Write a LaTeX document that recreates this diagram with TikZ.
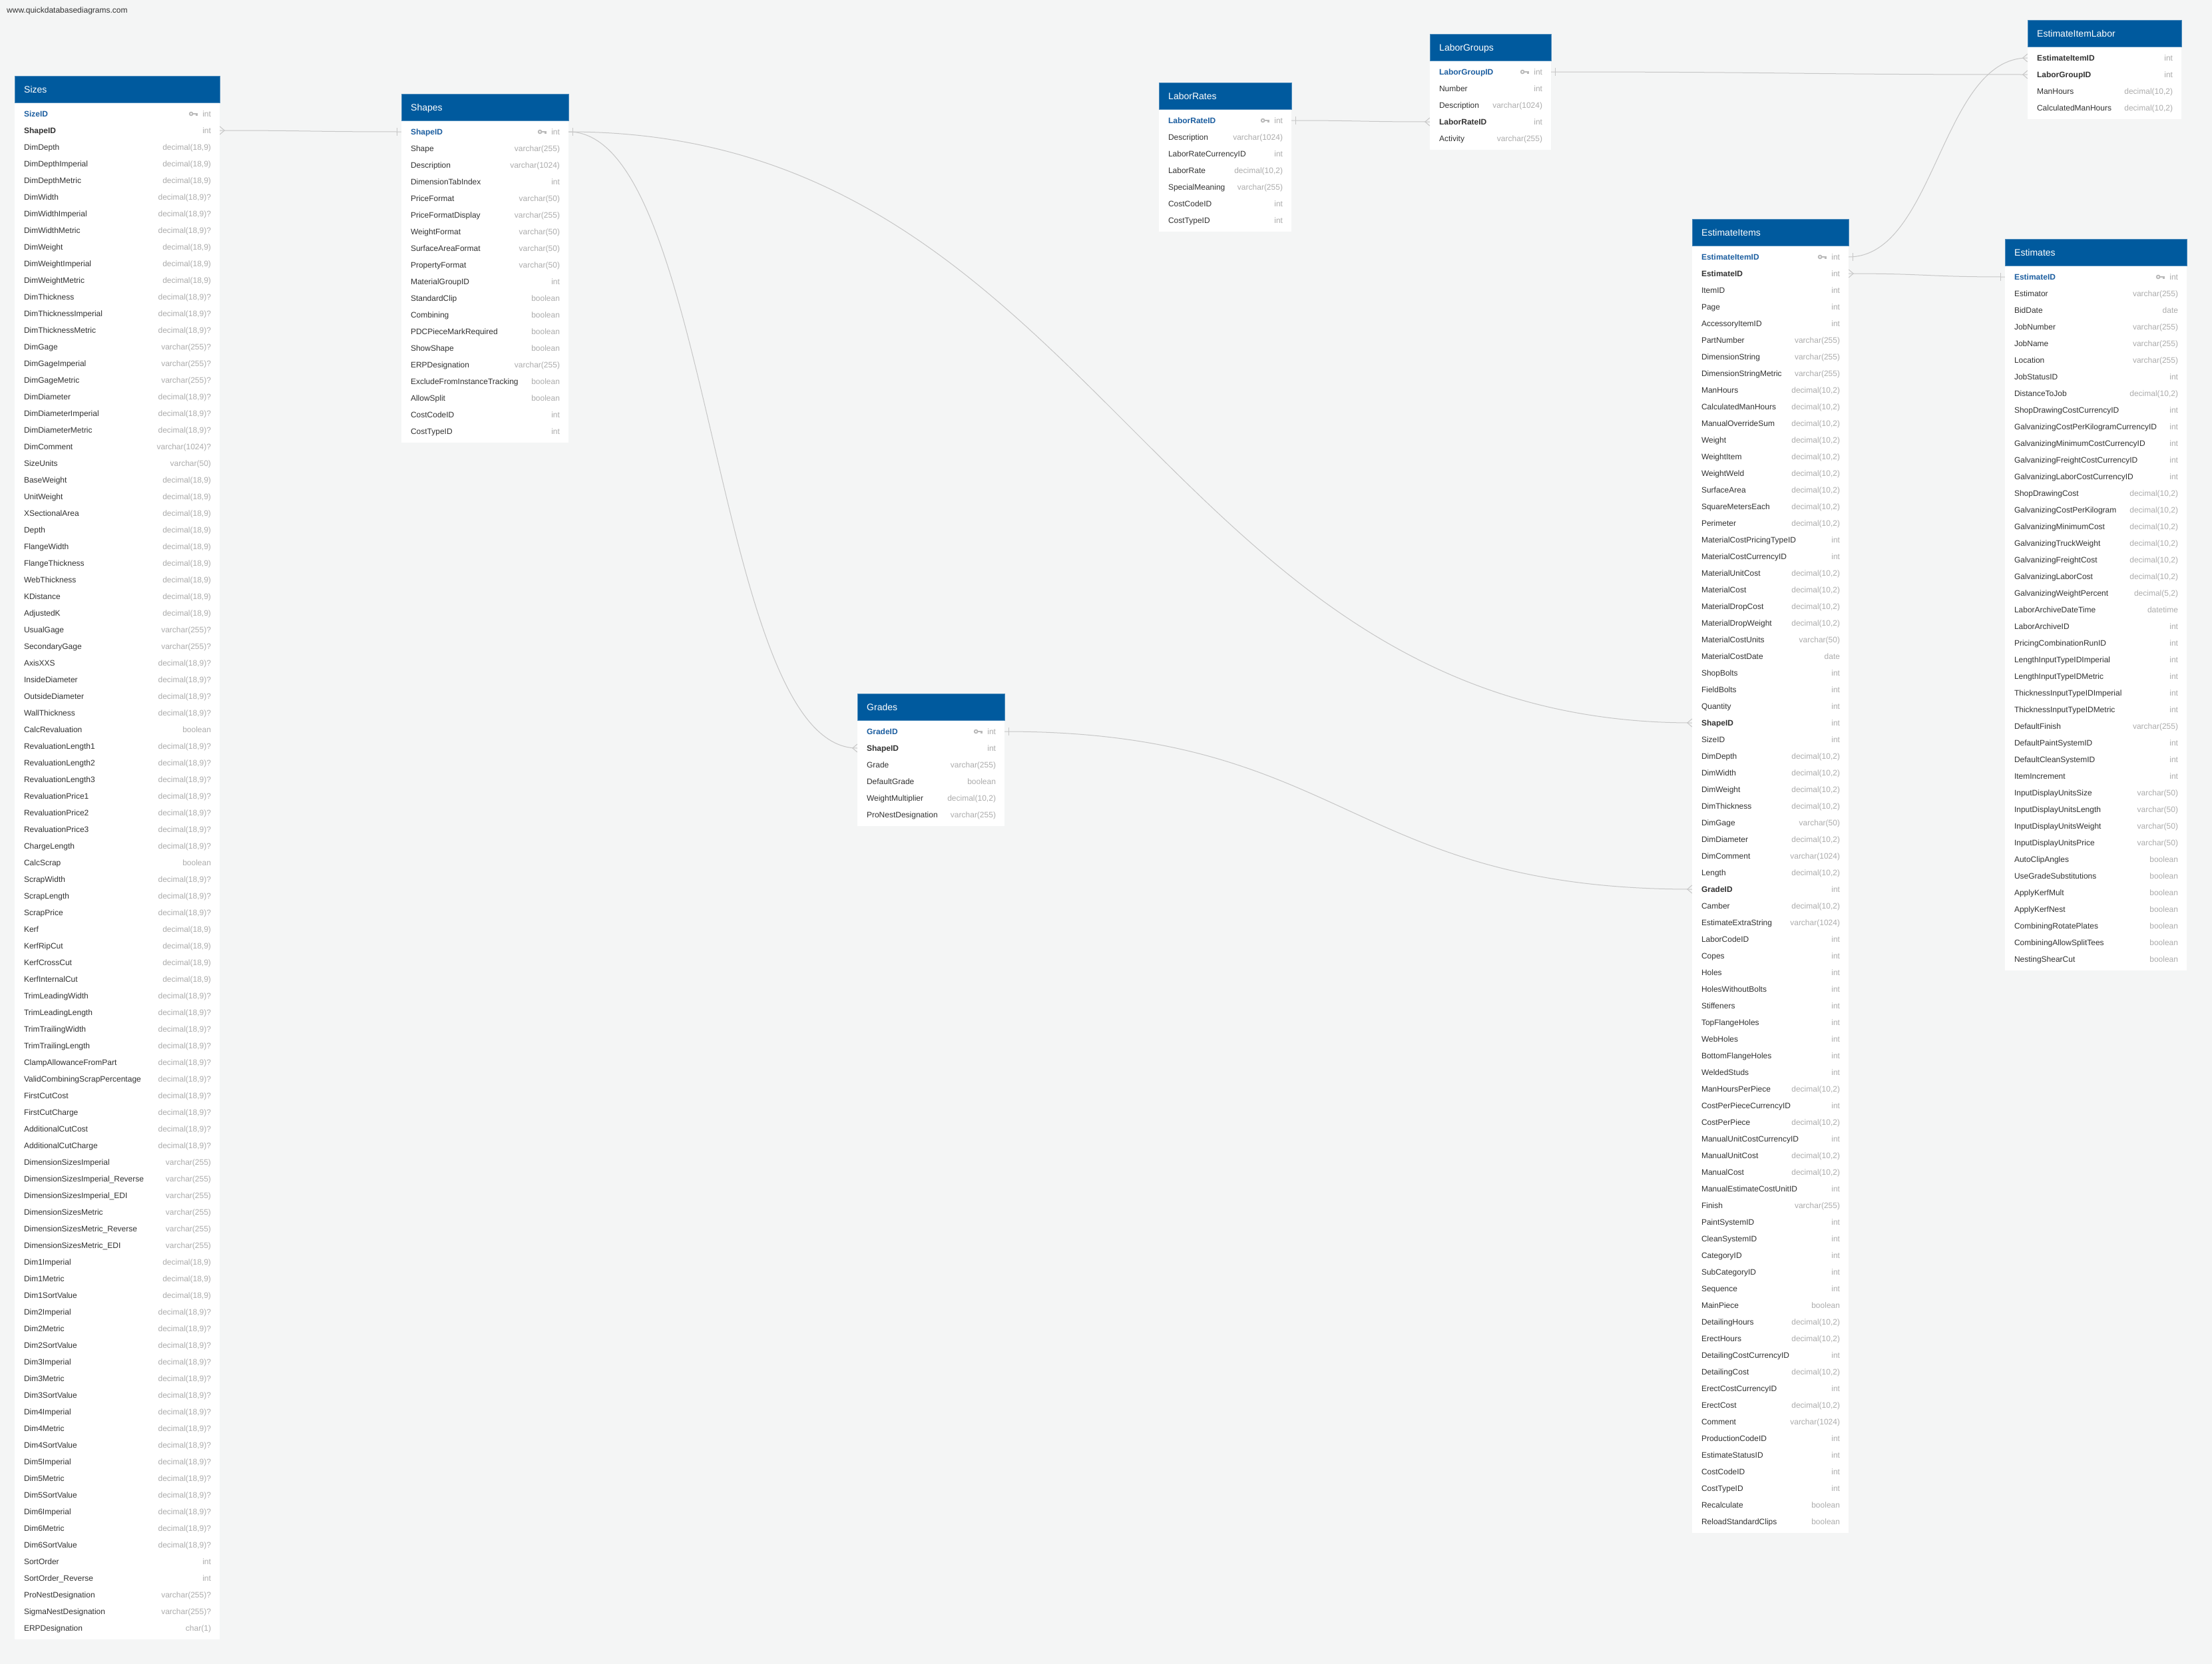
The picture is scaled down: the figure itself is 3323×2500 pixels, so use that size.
\documentclass[tikz,border=0pt]{standalone}
\usepackage{fontspec}
\setmainfont{Liberation Sans}
\usetikzlibrary{positioning,calc}
\definecolor{cPage}{RGB}{244,245,245}
\definecolor{cHead}{RGB}{0,90,158}
\definecolor{cPk}{RGB}{28,94,160}
\definecolor{cName}{RGB}{51,51,51}
\definecolor{cType}{RGB}{172,172,172}
\definecolor{cKey}{RGB}{185,185,185}
\definecolor{cRel}{RGB}{198,198,198}
\pgfdeclarelayer{pagebg}
\pgfdeclarelayer{body}
\pgfsetlayers{pagebg,body,main}
\newcommand{\erdrowfont}{\fontsize{12}{14}\selectfont}
\def\kindpk{p}
% one table: id, title, left, top, width, rows (name/type/kind)
\newcommand{\erdtable}[6]{%
  \node[thead,minimum width=#5,anchor=north west] (#1-head) at (#3,#4) {};
  \node[ttitle,anchor=west] (#1-title) at ([xshift=14pt]#1-head.west) {#2};
  \foreach \fname/\ftype/\fkind [count=\i] in {#6}{%
    \node[rowbox,minimum width=#5] (#1-\fname) at ({#3+#5/2},{#4+32+25*\i}) {};
    \node[fname,fk=\fkind,anchor=west] (#1-\fname-n) at ([xshift=14pt]#1-\fname.west) {\expandafter\detokenize\expandafter{\fname}};
    \node[ftype,anchor=east] (#1-\fname-t) at ([xshift=-13pt]#1-\fname.east) {\ftype};
    \ifx\fkind\kindpk \pic at ([xshift=-7pt]#1-\fname-t.west) {erdkey};\fi
    \xdef\lastfield{\fname}%
  }
  \begin{pgfonlayer}{body}
    \fill[white] (#1-head.south west) rectangle ([yshift=-4.5pt]#1-\lastfield.south east);
  \end{pgfonlayer}
}
% relationship ends
\newcommand{\crowout}[1]{\draw[rel] ([yshift=6pt]#1.east) -- ([xshift=7pt]#1.east) -- ([yshift=-6pt]#1.east);}
\newcommand{\crowin}[1]{\draw[rel] ([yshift=6pt]#1.west) -- ([xshift=-7pt]#1.west) -- ([yshift=-6pt]#1.west);}
\newcommand{\oneout}[1]{\draw[rel] ([xshift=6pt,yshift=6pt]#1.east) -- ([xshift=6pt,yshift=-6pt]#1.east);}
\newcommand{\onein}[1]{\draw[rel] ([xshift=-6pt,yshift=6pt]#1.west) -- ([xshift=-6pt,yshift=-6pt]#1.west);}

\begin{document}
\begin{tikzpicture}[x=1pt,y=-1pt]
\tikzset{
  thead/.style={rectangle,fill=cHead,draw=cHead!70!white,line width=0.8pt,minimum height=40,inner sep=0},
  ttitle/.style={inner sep=0,text=white,font=\fontsize{14}{16}\selectfont,text height=12pt,text depth=2pt},
  rowbox/.style={rectangle,minimum height=25,inner sep=0},
  fname/.style={inner sep=0,text=cName,font=\erdrowfont,text height=10.6pt,text depth=2pt},
  ftype/.style={inner sep=0,text=cType,font=\erdrowfont,text height=10.6pt,text depth=2pt},
  fk/.is choice,
  fk/p/.style={font=\erdrowfont\bfseries,text=cPk},
  fk/f/.style={font=\erdrowfont\bfseries},
  fk/n/.style={},
  rel/.style={draw=cRel,line width=1pt},
  erdkey/.pic={
    \draw[cKey,line width=1.8pt] (-10,0) circle (2.4);
    \fill[cKey] (-7.6,-1.1) rectangle (0,1.1);
    \fill[cKey] (-3.2,0) rectangle (-0.4,3.4);
  }
}
\useasboundingbox (0,0) rectangle (3323,2500);
\begin{pgfonlayer}{pagebg}
\fill[cPage] (0,0) rectangle (3323,2500);
\end{pgfonlayer}
\node[anchor=west,inner sep=0,text=cName,font=\erdrowfont] (site) at (10,16) {www.quickdatabasediagrams.com};

\erdtable{Sizes}{Sizes}{22}{114}{308}{SizeID/int/p, ShapeID/int/f,
  DimDepth/{decimal(18,9)}/n, DimDepthImperial/{decimal(18,9)}/n, DimDepthMetric/{decimal(18,9)}/n,
  DimWidth/{decimal(18,9)?}/n, DimWidthImperial/{decimal(18,9)?}/n, DimWidthMetric/{decimal(18,9)?}/n,
  DimWeight/{decimal(18,9)}/n, DimWeightImperial/{decimal(18,9)}/n, DimWeightMetric/{decimal(18,9)}/n,
  DimThickness/{decimal(18,9)?}/n, DimThicknessImperial/{decimal(18,9)?}/n, DimThicknessMetric/{decimal(18,9)?}/n,
  DimGage/{varchar(255)?}/n, DimGageImperial/{varchar(255)?}/n, DimGageMetric/{varchar(255)?}/n,
  DimDiameter/{decimal(18,9)?}/n, DimDiameterImperial/{decimal(18,9)?}/n, DimDiameterMetric/{decimal(18,9)?}/n,
  DimComment/{varchar(1024)?}/n, SizeUnits/{varchar(50)}/n,
  BaseWeight/{decimal(18,9)}/n, UnitWeight/{decimal(18,9)}/n, XSectionalArea/{decimal(18,9)}/n,
  Depth/{decimal(18,9)}/n, FlangeWidth/{decimal(18,9)}/n, FlangeThickness/{decimal(18,9)}/n,
  WebThickness/{decimal(18,9)}/n, KDistance/{decimal(18,9)}/n, AdjustedK/{decimal(18,9)}/n,
  UsualGage/{varchar(255)?}/n, SecondaryGage/{varchar(255)?}/n, AxisXXS/{decimal(18,9)?}/n,
  InsideDiameter/{decimal(18,9)?}/n, OutsideDiameter/{decimal(18,9)?}/n, WallThickness/{decimal(18,9)?}/n,
  CalcRevaluation/boolean/n,
  RevaluationLength1/{decimal(18,9)?}/n, RevaluationLength2/{decimal(18,9)?}/n, RevaluationLength3/{decimal(18,9)?}/n,
  RevaluationPrice1/{decimal(18,9)?}/n, RevaluationPrice2/{decimal(18,9)?}/n, RevaluationPrice3/{decimal(18,9)?}/n,
  ChargeLength/{decimal(18,9)?}/n, CalcScrap/boolean/n,
  ScrapWidth/{decimal(18,9)?}/n, ScrapLength/{decimal(18,9)?}/n, ScrapPrice/{decimal(18,9)?}/n,
  Kerf/{decimal(18,9)}/n, KerfRipCut/{decimal(18,9)}/n, KerfCrossCut/{decimal(18,9)}/n, KerfInternalCut/{decimal(18,9)}/n,
  TrimLeadingWidth/{decimal(18,9)?}/n, TrimLeadingLength/{decimal(18,9)?}/n,
  TrimTrailingWidth/{decimal(18,9)?}/n, TrimTrailingLength/{decimal(18,9)?}/n,
  ClampAllowanceFromPart/{decimal(18,9)?}/n, ValidCombiningScrapPercentage/{decimal(18,9)?}/n,
  FirstCutCost/{decimal(18,9)?}/n, FirstCutCharge/{decimal(18,9)?}/n,
  AdditionalCutCost/{decimal(18,9)?}/n, AdditionalCutCharge/{decimal(18,9)?}/n,
  DimensionSizesImperial/{varchar(255)}/n, DimensionSizesImperial_Reverse/{varchar(255)}/n,
  DimensionSizesImperial_EDI/{varchar(255)}/n, DimensionSizesMetric/{varchar(255)}/n,
  DimensionSizesMetric_Reverse/{varchar(255)}/n, DimensionSizesMetric_EDI/{varchar(255)}/n,
  Dim1Imperial/{decimal(18,9)}/n, Dim1Metric/{decimal(18,9)}/n, Dim1SortValue/{decimal(18,9)}/n,
  Dim2Imperial/{decimal(18,9)?}/n, Dim2Metric/{decimal(18,9)?}/n, Dim2SortValue/{decimal(18,9)?}/n,
  Dim3Imperial/{decimal(18,9)?}/n, Dim3Metric/{decimal(18,9)?}/n, Dim3SortValue/{decimal(18,9)?}/n,
  Dim4Imperial/{decimal(18,9)?}/n, Dim4Metric/{decimal(18,9)?}/n, Dim4SortValue/{decimal(18,9)?}/n,
  Dim5Imperial/{decimal(18,9)?}/n, Dim5Metric/{decimal(18,9)?}/n, Dim5SortValue/{decimal(18,9)?}/n,
  Dim6Imperial/{decimal(18,9)?}/n, Dim6Metric/{decimal(18,9)?}/n, Dim6SortValue/{decimal(18,9)?}/n,
  SortOrder/int/n, SortOrder_Reverse/int/n,
  ProNestDesignation/{varchar(255)?}/n, SigmaNestDesignation/{varchar(255)?}/n, ERPDesignation/{char(1)}/n}

\erdtable{Shapes}{Shapes}{603}{141}{251}{ShapeID/int/p, Shape/{varchar(255)}/n, Description/{varchar(1024)}/n,
  DimensionTabIndex/int/n, PriceFormat/{varchar(50)}/n, PriceFormatDisplay/{varchar(255)}/n,
  WeightFormat/{varchar(50)}/n, SurfaceAreaFormat/{varchar(50)}/n, PropertyFormat/{varchar(50)}/n,
  MaterialGroupID/int/n, StandardClip/boolean/n, Combining/boolean/n, PDCPieceMarkRequired/boolean/n,
  ShowShape/boolean/n, ERPDesignation/{varchar(255)}/n, ExcludeFromInstanceTracking/boolean/n,
  AllowSplit/boolean/n, CostCodeID/int/n, CostTypeID/int/n}

\erdtable{Grades}{Grades}{1288}{1042}{221}{GradeID/int/p, ShapeID/int/f, Grade/{varchar(255)}/n,
  DefaultGrade/boolean/n, WeightMultiplier/{decimal(10,2)}/n, ProNestDesignation/{varchar(255)}/n}

\erdtable{LaborRates}{LaborRates}{1741}{124}{199}{LaborRateID/int/p, Description/{varchar(1024)}/n,
  LaborRateCurrencyID/int/n, LaborRate/{decimal(10,2)}/n, SpecialMeaning/{varchar(255)}/n,
  CostCodeID/int/n, CostTypeID/int/n}

\erdtable{LaborGroups}{LaborGroups}{2148}{51}{182}{LaborGroupID/int/p, Number/int/n,
  Description/{varchar(1024)}/n, LaborRateID/int/f, Activity/{varchar(255)}/n}

\erdtable{EstimateItemLabor}{EstimateItemLabor}{3046}{30}{231}{EstimateItemID/int/f, LaborGroupID/int/f,
  ManHours/{decimal(10,2)}/n, CalculatedManHours/{decimal(10,2)}/n}

\erdtable{EstimateItems}{EstimateItems}{2542}{329}{235}{EstimateItemID/int/p, EstimateID/int/f,
  ItemID/int/n, Page/int/n, AccessoryItemID/int/n, PartNumber/{varchar(255)}/n,
  DimensionString/{varchar(255)}/n, DimensionStringMetric/{varchar(255)}/n,
  ManHours/{decimal(10,2)}/n, CalculatedManHours/{decimal(10,2)}/n, ManualOverrideSum/{decimal(10,2)}/n,
  Weight/{decimal(10,2)}/n, WeightItem/{decimal(10,2)}/n, WeightWeld/{decimal(10,2)}/n,
  SurfaceArea/{decimal(10,2)}/n, SquareMetersEach/{decimal(10,2)}/n, Perimeter/{decimal(10,2)}/n,
  MaterialCostPricingTypeID/int/n, MaterialCostCurrencyID/int/n, MaterialUnitCost/{decimal(10,2)}/n,
  MaterialCost/{decimal(10,2)}/n, MaterialDropCost/{decimal(10,2)}/n, MaterialDropWeight/{decimal(10,2)}/n,
  MaterialCostUnits/{varchar(50)}/n, MaterialCostDate/date/n, ShopBolts/int/n, FieldBolts/int/n,
  Quantity/int/n, ShapeID/int/f, SizeID/int/n,
  DimDepth/{decimal(10,2)}/n, DimWidth/{decimal(10,2)}/n, DimWeight/{decimal(10,2)}/n,
  DimThickness/{decimal(10,2)}/n, DimGage/{varchar(50)}/n, DimDiameter/{decimal(10,2)}/n,
  DimComment/{varchar(1024)}/n, Length/{decimal(10,2)}/n, GradeID/int/f, Camber/{decimal(10,2)}/n,
  EstimateExtraString/{varchar(1024)}/n, LaborCodeID/int/n, Copes/int/n, Holes/int/n,
  HolesWithoutBolts/int/n, Stiffeners/int/n, TopFlangeHoles/int/n, WebHoles/int/n,
  BottomFlangeHoles/int/n, WeldedStuds/int/n, ManHoursPerPiece/{decimal(10,2)}/n,
  CostPerPieceCurrencyID/int/n, CostPerPiece/{decimal(10,2)}/n, ManualUnitCostCurrencyID/int/n,
  ManualUnitCost/{decimal(10,2)}/n, ManualCost/{decimal(10,2)}/n, ManualEstimateCostUnitID/int/n,
  Finish/{varchar(255)}/n, PaintSystemID/int/n, CleanSystemID/int/n, CategoryID/int/n,
  SubCategoryID/int/n, Sequence/int/n, MainPiece/boolean/n, DetailingHours/{decimal(10,2)}/n,
  ErectHours/{decimal(10,2)}/n, DetailingCostCurrencyID/int/n, DetailingCost/{decimal(10,2)}/n,
  ErectCostCurrencyID/int/n, ErectCost/{decimal(10,2)}/n, Comment/{varchar(1024)}/n,
  ProductionCodeID/int/n, EstimateStatusID/int/n, CostCodeID/int/n, CostTypeID/int/n,
  Recalculate/boolean/n, ReloadStandardClips/boolean/n}

\erdtable{Estimates}{Estimates}{3012}{359}{273}{EstimateID/int/p, Estimator/{varchar(255)}/n,
  BidDate/date/n, JobNumber/{varchar(255)}/n, JobName/{varchar(255)}/n, Location/{varchar(255)}/n,
  JobStatusID/int/n, DistanceToJob/{decimal(10,2)}/n, ShopDrawingCostCurrencyID/int/n,
  GalvanizingCostPerKilogramCurrencyID/int/n, GalvanizingMinimumCostCurrencyID/int/n,
  GalvanizingFreightCostCurrencyID/int/n, GalvanizingLaborCostCurrencyID/int/n,
  ShopDrawingCost/{decimal(10,2)}/n, GalvanizingCostPerKilogram/{decimal(10,2)}/n,
  GalvanizingMinimumCost/{decimal(10,2)}/n, GalvanizingTruckWeight/{decimal(10,2)}/n,
  GalvanizingFreightCost/{decimal(10,2)}/n, GalvanizingLaborCost/{decimal(10,2)}/n,
  GalvanizingWeightPercent/{decimal(5,2)}/n, LaborArchiveDateTime/datetime/n, LaborArchiveID/int/n,
  PricingCombinationRunID/int/n, LengthInputTypeIDImperial/int/n, LengthInputTypeIDMetric/int/n,
  ThicknessInputTypeIDImperial/int/n, ThicknessInputTypeIDMetric/int/n, DefaultFinish/{varchar(255)}/n,
  DefaultPaintSystemID/int/n, DefaultCleanSystemID/int/n, ItemIncrement/int/n,
  InputDisplayUnitsSize/{varchar(50)}/n, InputDisplayUnitsLength/{varchar(50)}/n,
  InputDisplayUnitsWeight/{varchar(50)}/n, InputDisplayUnitsPrice/{varchar(50)}/n,
  AutoClipAngles/boolean/n, UseGradeSubstitutions/boolean/n, ApplyKerfMult/boolean/n,
  ApplyKerfNest/boolean/n, CombiningRotatePlates/boolean/n, CombiningAllowSplitTees/boolean/n,
  NestingShearCut/boolean/n}

% relationships
\draw[rel] (Sizes-ShapeID.east) .. controls +(136,0) and +(-136,0) .. (Shapes-ShapeID.west);
\crowout{Sizes-ShapeID} \onein{Shapes-ShapeID}
\draw[rel] (Shapes-ShapeID.east) .. controls +(217,0) and +(-217,0) .. (Grades-ShapeID.west);
\oneout{Shapes-ShapeID} \crowin{Grades-ShapeID}
\draw[rel] (Shapes-ShapeID.east) .. controls +(800,0) and +(-800,0) .. (EstimateItems-ShapeID.west);
\crowin{EstimateItems-ShapeID}
\draw[rel] (Grades-GradeID.east) .. controls +(516,0) and +(-516,0) .. (EstimateItems-GradeID.west);
\oneout{Grades-GradeID} \crowin{EstimateItems-GradeID}
\draw[rel] (LaborRates-LaborRateID.east) .. controls +(104,0) and +(-104,0) .. (LaborGroups-LaborRateID.west);
\oneout{LaborRates-LaborRateID} \crowin{LaborGroups-LaborRateID}
\draw[rel] (LaborGroups-LaborGroupID.east) .. controls +(358,0) and +(-358,0) .. (EstimateItemLabor-LaborGroupID.west);
\oneout{LaborGroups-LaborGroupID} \crowin{EstimateItemLabor-LaborGroupID}
\draw[rel] (EstimateItems-EstimateItemID.east) .. controls +(130,0) and +(-130,0) .. (EstimateItemLabor-EstimateItemID.west);
\oneout{EstimateItems-EstimateItemID} \crowin{EstimateItemLabor-EstimateItemID}
\draw[rel] (EstimateItems-EstimateID.east) .. controls +(117,0) and +(-117,0) .. (Estimates-EstimateID.west);
\crowout{EstimateItems-EstimateID} \onein{Estimates-EstimateID}
\end{tikzpicture}
\end{document}
